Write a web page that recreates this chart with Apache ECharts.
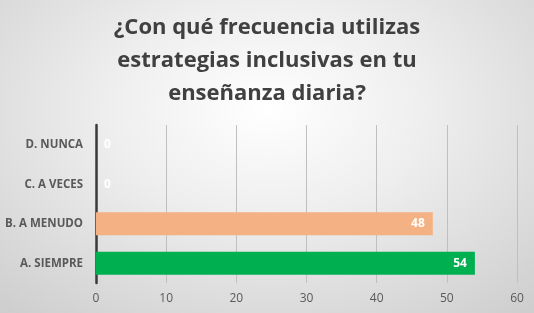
<!DOCTYPE html>
<html>
<head>
    <meta charset="UTF-8">
    <title>frecuencia estrategias inclusivas</title>
    <script type="text/javascript" src="https://cdn.jsdelivr.net/npm/echarts@6/dist/echarts.min.js"></script>
    <style>
        html, body {
            margin: 0;
            padding: 0;
            width: 534px;
            height: 313px;
            overflow: hidden;
        }
        #chart {
            width: 534px;
            height: 313px;
            background: radial-gradient(ellipse 75% 85% at 50% 35%, #ffffff 0%, #eeeeee 40%, #cecece 100%);
        }
    </style>
</head>
<body>
<div id="chart"></div>
<script>
    // datos
    var categorias = ['A. SIEMPRE', 'B. A MENUDO', 'C. A VECES', 'D. NUNCA'];
    var valores = [54, 48, 0, 0];
    var colores = ['#00b050', '#f4b183', '#f4b183', '#f4b183'];
    var titulo = '¿Con qué frecuencia utilizas\nestrategias inclusivas en tu\nenseñanza diaria?';

    var datos = [];
    for (var i = 0; i < valores.length; i++) {
        datos.push({
            value: valores[i],
            itemStyle: { color: colores[i] },
            label: valores[i] === 0 ? { position: 'right', distance: 8 } : { position: 'insideRight', distance: 8 }
        });
    }

    var chart = echarts.init(document.getElementById('chart'));
    var option = {
        backgroundColor: 'transparent',
        title: {
            text: titulo,
            left: 'center',
            top: 6,
            textStyle: {
                fontFamily: 'Open Sans',
                fontWeight: 'bold',
                fontSize: 22,
                lineHeight: 33,
                color: '#404040'
            }
        },
        grid: {
            left: 96,
            right: 17,
            top: 125,
            bottom: 30,
            containLabel: false
        },
        xAxis: {
            type: 'value',
            min: 0,
            max: 60,
            interval: 10,
            axisLine: { show: false },
            axisTick: { show: false },
            splitLine: { lineStyle: { color: '#bfbfbf', width: 1 } },
            axisLabel: {
                color: '#595959',
                fontFamily: 'Open Sans',
                fontSize: 12,
                margin: 10
            }
        },
        yAxis: {
            type: 'category',
            data: categorias,
            axisLine: { lineStyle: { color: '#3a3a3a', width: 2.5 } },
            axisTick: { show: false },
            axisLabel: {
                color: '#595959',
                fontFamily: 'Open Sans',
                fontWeight: 'bold',
                fontSize: 11.5,
                margin: 13
            }
        },
        series: [{
            type: 'bar',
            data: datos,
            barWidth: 23,
            silent: true,
            label: {
                show: true,
                color: '#ffffff',
                fontFamily: 'Open Sans',
                fontWeight: 'bold',
                fontSize: 12
            }
        }]
    };
    chart.setOption(option);
</script>
</body>
</html>
